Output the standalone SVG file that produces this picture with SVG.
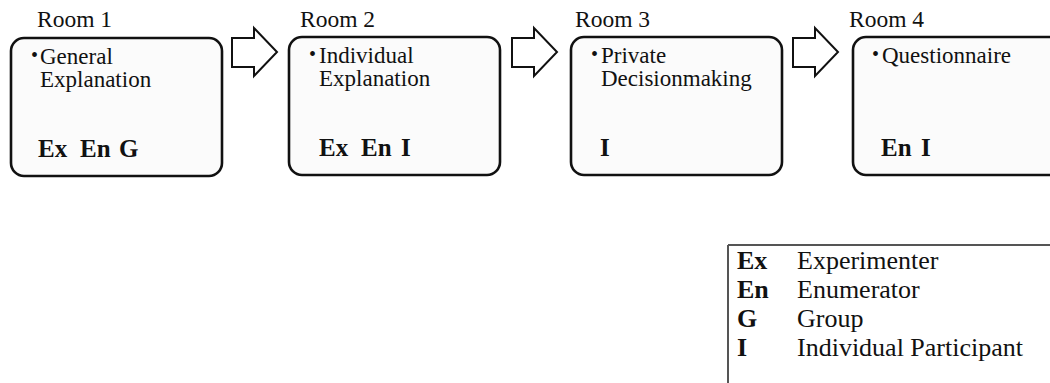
<svg xmlns="http://www.w3.org/2000/svg" width="1050" height="383" viewBox="0 0 1050 383">
<style>
text{font-family:"Liberation Serif","Times New Roman",serif;fill:#111}
.room{font-size:23.5px}
.body{font-size:23px}
.bold{font-size:25px;font-weight:bold}
.bul{font-size:20px}
.box{fill:#fbfbfb;stroke:#111;stroke-width:2.6}
.arrow{fill:#fff;stroke:#111;stroke-width:2;stroke-linejoin:miter}
.leg{font-size:26px}
.legb{font-size:26px;font-weight:bold}
.legline{stroke:#555;stroke-width:2;fill:none}
</style>
<g id="room1">
<text class="room" x="37" y="27">Room 1</text>
<rect class="box" x="11" y="38" width="211" height="138" rx="13"/>
<text class="body" x="31" y="64"><tspan class="bul" dy="-2">•</tspan><tspan x="40" y="64">General</tspan><tspan x="40" dy="23">Explanation</tspan></text>
<text class="bold" x="38" y="157">Ex</text><text class="bold" x="80" y="157">En</text><text class="bold" x="119" y="157">G</text>
</g>
<g id="room2">
<text class="room" x="300" y="27">Room 2</text>
<rect class="box" x="289" y="37" width="211" height="138" rx="13"/>
<text class="body" x="309" y="63"><tspan class="bul" dy="-2">•</tspan><tspan x="319" y="63">Individual</tspan><tspan x="319" dy="23">Explanation</tspan></text>
<text class="bold" x="319" y="156">Ex</text><text class="bold" x="361" y="156">En</text><text class="bold" x="401" y="156">I</text>
</g>
<g id="room3">
<text class="room" x="575" y="27">Room 3</text>
<rect class="box" x="571" y="37" width="211" height="138" rx="13"/>
<text class="body" x="591" y="63"><tspan class="bul" dy="-2">•</tspan><tspan x="601" y="63">Private</tspan><tspan x="601" dy="23">Decisionmaking</tspan></text>
<text class="bold" x="600" y="156">I</text>
</g>
<g id="room4">
<text class="room" x="849" y="27">Room 4</text>
<rect class="box" x="853" y="37" width="220" height="138" rx="13"/>
<text class="body" x="872" y="63"><tspan class="bul" dy="-2">•</tspan><tspan x="882" y="63">Questionnaire</tspan></text>
<text class="bold" x="881" y="156">En</text><text class="bold" x="921" y="156">I</text>
</g>
<g id="connectors">
<polygon class="arrow" points="232,38 254,38 254,28 277,52 254,76 254,67 232,67"/>
<polygon class="arrow" points="512,38 534,38 534,28 557,52 534,76 534,67 512,67"/>
<polygon class="arrow" points="793,38 815,38 815,28 838,52 815,76 815,67 793,67"/>
</g>
<g id="legend">
<path class="legline" d="M728,245 H1050 M728,245 V383"/>
<text class="legb" x="737" y="269">Ex</text><text class="leg" x="797" y="269">Experimenter</text>
<text class="legb" x="737" y="298">En</text><text class="leg" x="797" y="298">Enumerator</text>
<text class="legb" x="737" y="327">G</text><text class="leg" x="797" y="327">Group</text>
<text class="legb" x="737" y="356">I</text><text class="leg" x="797" y="356">Individual Participant</text>
</g>
</svg>
